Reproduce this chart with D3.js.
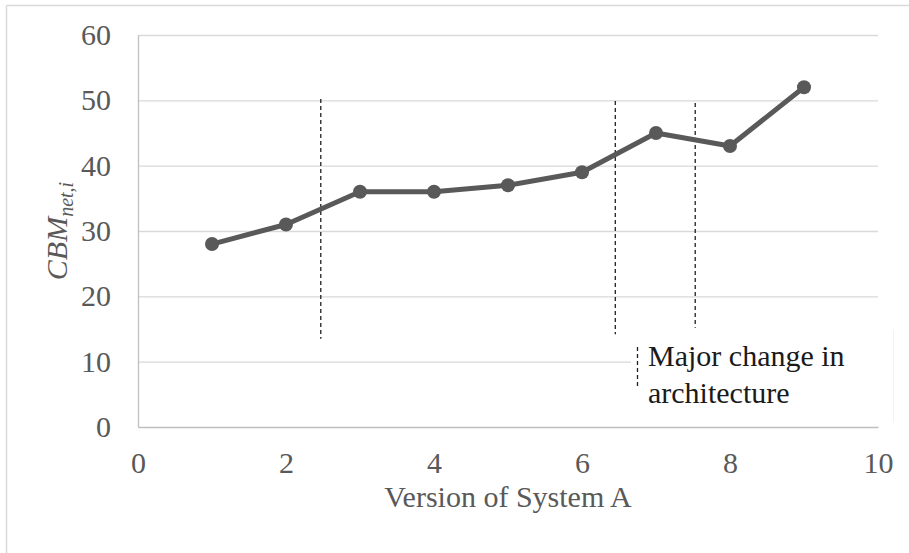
<!DOCTYPE html>
<html>
<head>
<meta charset="utf-8">
<script src="https://cdn.jsdelivr.net/npm/d3@7"></script>
<style>
  html, body { margin: 0; padding: 0; background: #fff; }
  svg { display: block; }
</style>
</head>
<body>
<svg id="chart" width="909" height="553"></svg>
<script>
// Metric values per version of System A
const versions = [1, 2, 3, 4, 5, 6, 7, 8, 9];
const cbmValues = [28, 31, 36, 36, 37, 39, 45, 43, 52];

// Axis ticks
const xTicks = [0, 2, 4, 6, 8, 10];
const yTicks = [0, 10, 20, 30, 40, 50, 60];

// Versions where the architecture changed (dashed markers) and their vertical extent
const changeAt = [2.47, 6.45, 7.53];
const changeTop = [50.2, 49.9, 49.6];
const changeBottom = [13.5, 14.2, 15.2];

const legendLines = ["Major change in", "architecture"];

const svg = d3.select("#chart");
const W = 909, H = 553;

// outer frame (top and left edges visible)
svg.append("line").attr("x1", 6.5).attr("x2", W).attr("y1", 5.5).attr("y2", 5.5)
  .attr("stroke", "#d9d9d9").attr("stroke-width", 1.5);
svg.append("line").attr("x1", 6.5).attr("x2", 6.5).attr("y1", 5.5).attr("y2", H)
  .attr("stroke", "#d9d9d9").attr("stroke-width", 1.5);

const x = d3.scaleLinear().domain([0, 10]).range([138, 878]);
const y = d3.scaleLinear().domain([0, 60]).range([427, 35]);

const font = "'Liberation Serif', 'Times New Roman', serif";
const fs = 30;

// horizontal gridlines
svg.append("g").selectAll("line").data(yTicks.filter(d => d > 0)).join("line")
  .attr("x1", x(0)).attr("x2", x(10))
  .attr("y1", d => y(d) + 0.5).attr("y2", d => y(d) + 0.5)
  .attr("stroke", "#d9d9d9").attr("stroke-width", 1.3);

// y axis
const yAxis = svg.append("g").attr("transform", `translate(${x(0)},0)`)
  .call(d3.axisLeft(y).tickValues(yTicks).tickSize(0).tickPadding(27));
yAxis.select(".domain").attr("stroke", "#bfbfbf").attr("stroke-width", 1.3);
yAxis.selectAll("text").attr("font-family", font).attr("font-size", fs).attr("fill", "#595959");

// x axis
const xAxis = svg.append("g").attr("transform", `translate(0,${y(0)})`)
  .call(d3.axisBottom(x).tickValues(xTicks).tickSize(0).tickPadding(25));
xAxis.select(".domain").attr("stroke", "#bfbfbf").attr("stroke-width", 1.3);
xAxis.selectAll("text").attr("font-family", font).attr("font-size", fs).attr("fill", "#595959");

// axis titles
svg.append("text")
  .attr("x", (x(0) + x(10)) / 2).attr("y", 507)
  .attr("text-anchor", "middle")
  .attr("font-family", font).attr("font-size", fs).attr("fill", "#595959")
  .text("Version of System A");

const yTitle = svg.append("text")
  .attr("transform", `translate(67,${(y(0) + y(60)) / 2}) rotate(-90)`)
  .attr("text-anchor", "middle")
  .attr("font-family", font).attr("font-size", fs).attr("font-style", "italic").attr("fill", "#595959");
yTitle.append("tspan").text("CBM");
yTitle.append("tspan").attr("font-size", 20).attr("dy", 6).text("net,i");

// architecture-change markers
svg.append("g").selectAll("line").data(changeAt).join("line")
  .attr("x1", d => x(d)).attr("x2", d => x(d))
  .attr("y1", (d, i) => y(changeTop[i])).attr("y2", (d, i) => y(changeBottom[i]))
  .attr("stroke", "#1f1f1f").attr("stroke-width", 1.3).attr("stroke-dasharray", "4,3");

// data line
const pts = versions.map((v, i) => [v, cbmValues[i]]);
svg.append("path").datum(pts)
  .attr("fill", "none").attr("stroke", "#595959").attr("stroke-width", 5)
  .attr("stroke-linejoin", "round")
  .attr("d", d3.line().x(d => x(d[0])).y(d => y(d[1])));
svg.append("g").selectAll("circle").data(pts).join("circle")
  .attr("cx", d => x(d[0])).attr("cy", d => y(d[1])).attr("r", 7)
  .attr("fill", "#595959");

// legend box
const lg = svg.append("g");
lg.append("rect").attr("x", 631).attr("y", 338).attr("width", 262).attr("height", 84)
  .attr("fill", "#fff");
lg.append("line").attr("x1", 893.5).attr("x2", 893.5).attr("y1", 330).attr("y2", 422)
  .attr("stroke", "#f2f2f2").attr("stroke-width", 1);
lg.append("line").attr("x1", 637.5).attr("x2", 637.5).attr("y1", 347).attr("y2", 386)
  .attr("stroke", "#1f1f1f").attr("stroke-width", 1.3).attr("stroke-dasharray", "4,3");
lg.selectAll("text").data(legendLines).join("text")
  .attr("x", 648).attr("y", (d, i) => 366 + i * 37)
  .attr("font-family", font).attr("font-size", 30).attr("fill", "#1a1a1a")
  .text(d => d);
</script>
</body>
</html>
